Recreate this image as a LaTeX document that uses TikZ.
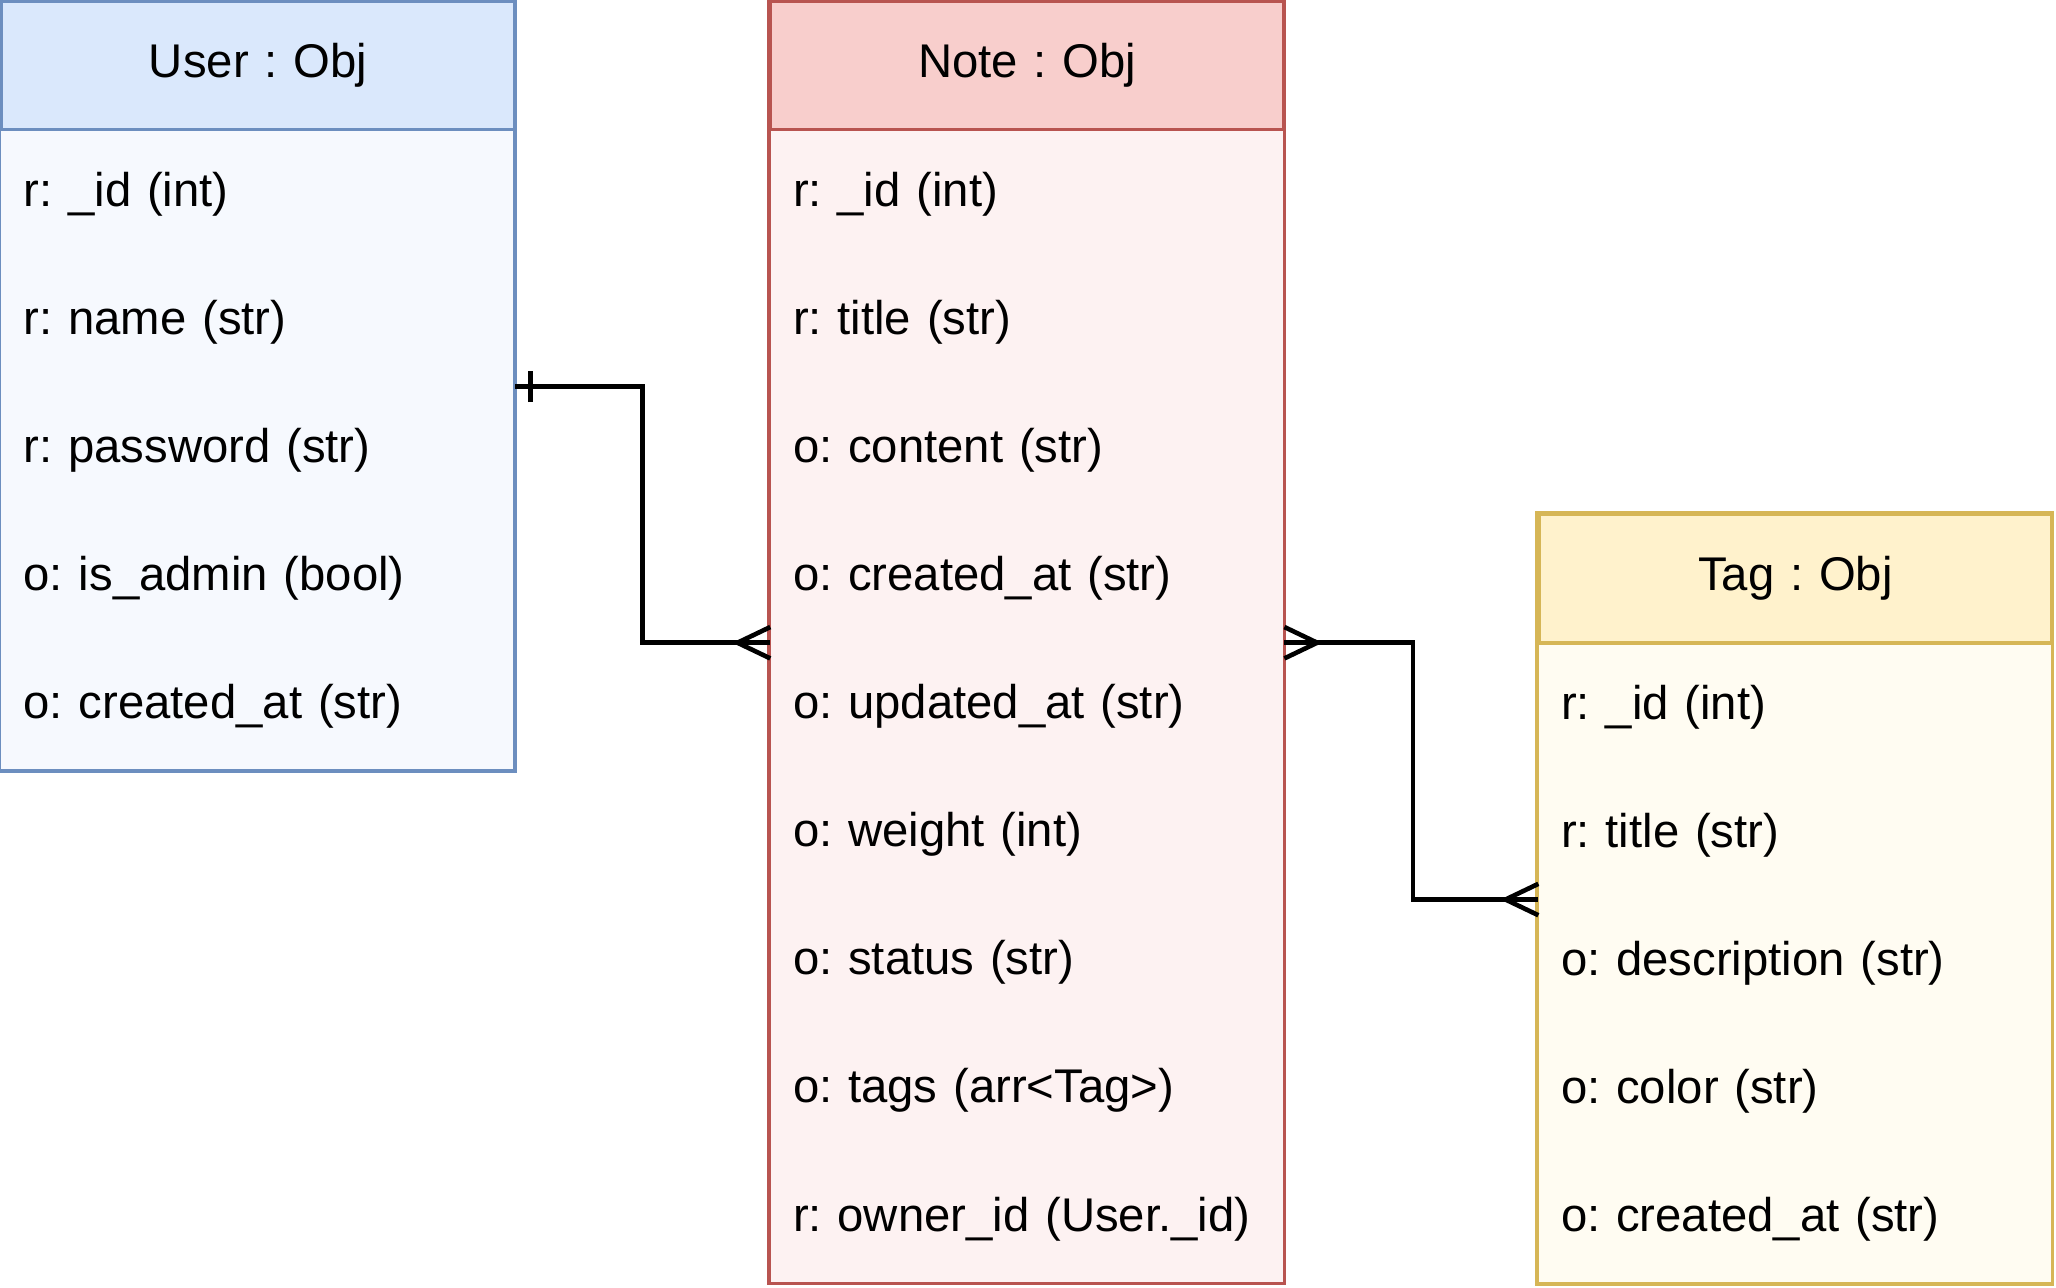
\documentclass[tikz,border=0pt]{standalone}
\usepackage{fontspec}
\setmainfont{Liberation Sans}
\usepackage{tikz}
\usetikzlibrary{arrows}
\frenchspacing

\definecolor{userfill}{HTML}{DAE8FC}
\definecolor{userbody}{HTML}{F6F9FE}
\definecolor{userline}{HTML}{6C8EBF}
\definecolor{notefill}{HTML}{F8CECC}
\definecolor{notebody}{HTML}{FDF2F2}
\definecolor{noteline}{HTML}{B85450}
\definecolor{tagfill}{HTML}{FFF2CC}
\definecolor{tagbody}{HTML}{FFFCF2}
\definecolor{tagline}{HTML}{D6B656}

% crow's foot (many) and bar (one) ends
\pgfarrowsdeclare{crow}{crow}
{\pgfarrowsleftextend{-14.2pt}\pgfarrowsrightextend{0pt}}
{
  \pgfpathmoveto{\pgfpoint{0pt}{6.8pt}}
  \pgfpathlineto{\pgfpoint{-14.2pt}{0pt}}
  \pgfpathlineto{\pgfpoint{0pt}{-6.8pt}}
  \pgfusepathqstroke
}
\pgfarrowsdeclare{one}{one}
{\pgfarrowsleftextend{-7.5pt}\pgfarrowsrightextend{0pt}}
{
  \pgfpathmoveto{\pgfpoint{-6.8pt}{6.8pt}}
  \pgfpathlineto{\pgfpoint{-6.8pt}{-6.8pt}}
  \pgfusepathqstroke
}

\begin{document}
\begin{tikzpicture}[x=0.02cm,y=-0.02cm,
  every node/.style={font=\fontsize{20.5}{24}\selectfont},
  box/.style={rectangle,inner xsep=0.34cm,inner ysep=0pt,text width=7.14cm,minimum height=1.952cm},
  head/.style={box,draw,line width=1.5pt,align=center},
  row/.style={box,align=left},
  link/.style={line width=2pt}]
\useasboundingbox (0,0) rectangle (1566,981);
% User
\foreach \t [count=\i] in {r: \_id (int), r: name (str), r: password (str),
    o: is\_admin (bool), o: created\_at (str)}
  \node (urow\i) [row,fill=userbody] at (196.5,{50+97.6*\i}) {\t};
\node (user) [head,fill=userfill,draw=userline] at (196.5,50) {User : Obj};
\draw [userline,line width=1.5pt] (user.north west) rectangle (urow5.south east);
% Note
\foreach \t [count=\i] in {r: \_id (int), r: title (str), o: content (str),
    o: created\_at (str), o: updated\_at (str), o: weight (int), o: status (str),
    o: tags (arr<Tag>), r: owner\_id (User.\_id)}
  \node (nrow\i) [row,fill=notebody] at (782.5,{50+97.6*\i}) {\t};
\node (note) [head,fill=notefill,draw=noteline] at (782.5,50) {Note : Obj};
\draw [noteline,line width=1.5pt] (note.north west) rectangle (nrow9.south east);
% Tag
\foreach \t [count=\i] in {r: \_id (int), r: title (str), o: description (str),
    o: color (str), o: created\_at (str)}
  \node (trow\i) [row,fill=tagbody] at (1367.5,{440.8+97.6*\i}) {\t};
\node (tag) [head,fill=tagfill,draw=tagline] at (1367.5,440.8) {Tag : Obj};
\draw [tagline,line width=1.5pt] (tag.north west) rectangle (trow5.south east);
% relations
\draw [link,one-crow] (urow2.south east) -- ++(97,0) |- (nrow4.south west);
\draw [link,crow-crow] (nrow4.south east) -- ++(98,0) |- (trow2.south west);
\end{tikzpicture}
\end{document}
